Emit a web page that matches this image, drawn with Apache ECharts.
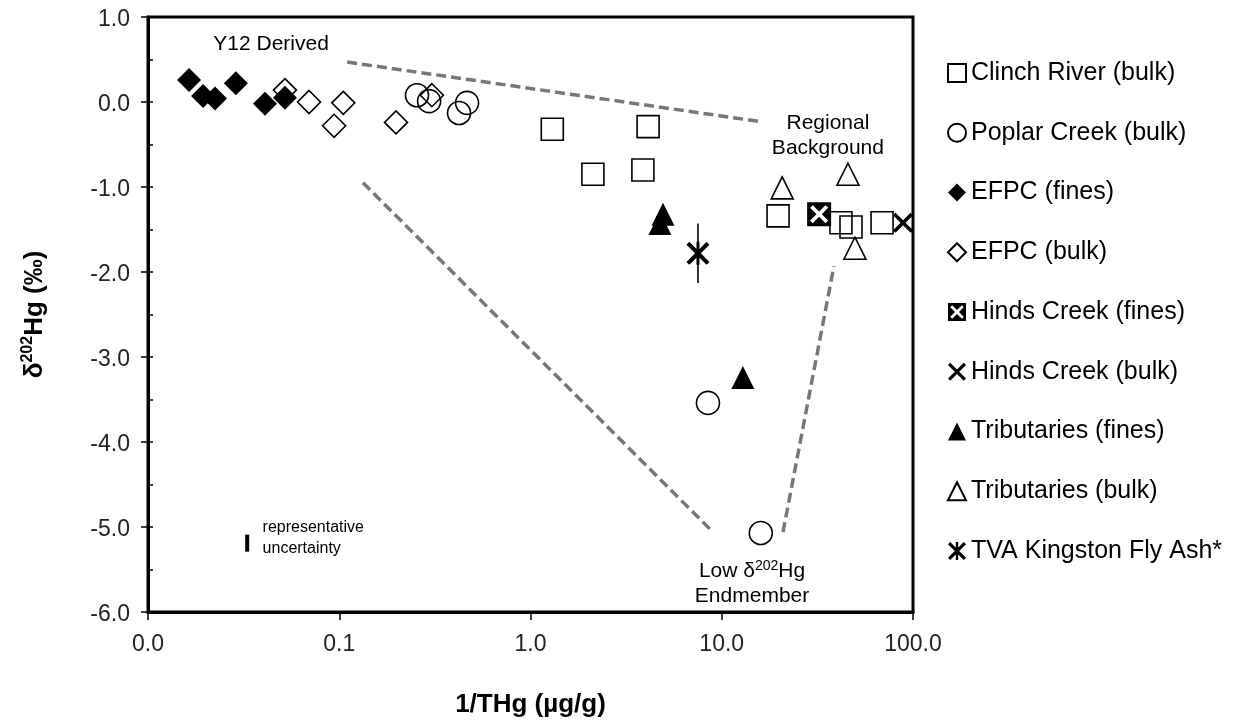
<!DOCTYPE html>
<html>
<head>
<meta charset="utf-8">
<script src="https://cdn.jsdelivr.net/npm/echarts@6/dist/echarts.min.js"></script>
<style>
  html, body { margin: 0; padding: 0; background: #fff; }
  #chart { width: 1247px; height: 726px; }
</style>
</head>
<body>
<div id="chart"></div>
<script>
// ---------------- DATA ----------------
const xTicks = [0.01, 0.1, 1, 10, 100];
const yTicks = [-6, -5, -4, -3, -2, -1, 0, 1];

const clinchX = [1.30, 4.12, 2.12, 3.87, 19.7, 42.0, 47.4, 68.9];
const clinchY = [-0.32, -0.29, -0.85, -0.80, -1.34, -1.42, -1.47, -1.42];

const poplarX = [0.255, 0.295, 0.466, 0.423, 8.47, 16.0];
const poplarY = [0.08, 0.01, -0.01, -0.13, -3.54, -5.07];

const efpcFinesX = [0.0164, 0.0194, 0.0224, 0.0288, 0.0409, 0.052];
const efpcFinesY = [0.26, 0.07, 0.04, 0.22, -0.02, 0.05];

const efpcBulkX = [0.052, 0.0695, 0.105, 0.094, 0.198, 0.305];
const efpcBulkY = [0.14, 0.00, -0.01, -0.28, -0.24, 0.08];

const hindsFinesX = [32.3];
const hindsFinesY = [-1.32];

const hindsBulkX = [88.7];
const hindsBulkY = [-1.42];

const tribFinesX = [4.93, 4.75, 12.9];
const tribFinesY = [-1.32, -1.43, -3.24];

const tribBulkX = [20.7, 45.7, 49.7];
const tribBulkY = [-1.01, -0.85, -1.72];

const tvaX = [7.51];
const tvaY = [-1.78];
const tvaErr = [0.35];

const uncertX = [0.033];
const uncertY = [-5.19];
const uncertErr = [0.10];

// dashed mixing lines: [x1, x2], [y1, y2]
const dashA_X = [0.110, 16.4];  const dashA_Y = [0.47, -0.235];
const dashB_X = [0.133, 9.0];   const dashB_Y = [-0.95, -5.06];
const dashC_X = [20.9, 38.6];   const dashC_Y = [-5.06, -1.93];

// annotations
const annoText = ['Y12 Derived', 'Regional\nBackground', '{a|Low δ}{s|202}{a|Hg}\n{a|Endmember}', 'representative\nuncertainty'];
const annoX = [0.044, 35.9, 14.4, 0.0395];
const annoY = [0.68, -0.40, -5.67, -5.13];

const seriesNames = ['Clinch River (bulk)', 'Poplar Creek (bulk)', 'EFPC (fines)', 'EFPC (bulk)',
  'Hinds Creek (fines)', 'Hinds Creek (bulk)', 'Tributaries (fines)', 'Tributaries (bulk)', 'TVA Kingston Fly Ash*'];

// ---------------- HELPERS ----------------
const FONT = "'Liberation Sans', Arial, sans-serif";
const zip = (xs, ys) => xs.map((x, i) => [x, ys[i]]);

const X_PATH = 'path://M0 2.5 L2.5 0 L10 7.5 L17.5 0 L20 2.5 L12.5 10 L20 17.5 L17.5 20 L10 12.5 L2.5 20 L0 17.5 L7.5 10 Z';
const AST_PATH = 'path://M0 2.5 L2.5 0 L10 7.5 L17.5 0 L20 2.5 L12.5 10 L20 17.5 L17.5 20 L10 12.5 L2.5 20 L0 17.5 L7.5 10 Z M8.7 0 L11.3 0 L11.3 20 L8.7 20 Z';
const BOXX_PATH = 'path://M0 0 L20 0 L20 20 L0 20 Z M2.5 4.7 L7.8 10 L2.5 15.3 L4.7 17.5 L10 12.2 L15.3 17.5 L17.5 15.3 L12.2 10 L17.5 4.7 L15.3 2.5 L10 7.8 L4.7 2.5 Z';

const openStyle = { color: 'rgba(0,0,0,0)', borderColor: '#000', borderWidth: 1.6, opacity: 1 };
const fillStyle = { color: '#000', borderWidth: 0, opacity: 1 };

function scatter(name, xs, ys, symbol, size, style) {
  return { name, type: 'scatter', data: zip(xs, ys), symbol, symbolSize: size,
    itemStyle: style, z: 5, silent: true };
}
function dashLine(xs, ys) {
  return { type: 'line', data: zip(xs, ys), symbol: 'none', silent: true, z: 2,
    lineStyle: { color: '#777', width: 3.5, type: [10, 5], opacity: 1 } };
}
function errBar(xs, ys, es, w) {
  const d = [];
  xs.forEach((x, i) => { d.push([x, ys[i] + es[i]]); d.push([x, ys[i] - es[i]]); });
  return { type: 'line', data: d, symbol: 'none', silent: true, z: 4,
    lineStyle: { color: '#000', width: w, opacity: 1 } };
}

const annoData = annoText.map((t, i) => {
  const left = i === 3;
  return {
    value: [annoX[i], annoY[i]],
    label: {
      show: true,
      position: left ? 'right' : 'inside',
      distance: 0,
      formatter: t,
      fontFamily: FONT,
      fontSize: left ? 16 : 21,
      lineHeight: left ? 21 : 25,
      color: '#000',
      opacity: 1,
      align: left ? 'left' : 'center',
      verticalAlign: 'middle',
      rich: {
        a: { fontFamily: FONT, fontSize: 21, lineHeight: 25, color: '#000' },
        s: { fontFamily: FONT, fontSize: 14, lineHeight: 14, verticalAlign: 'top', color: '#000' }
      }
    }
  };
});

const option = {
  animation: false,
  backgroundColor: '#fff',
  textStyle: { fontFamily: FONT },
  grid: { left: 148, right: 334, top: 17, bottom: 114, show: true,
    borderColor: '#000', borderWidth: 3, backgroundColor: 'transparent', containLabel: false },
  legend: {
    data: seriesNames,
    orient: 'vertical',
    left: 942, top: 55,
    itemWidth: 18, itemHeight: 18, itemGap: 33.75,
    textStyle: { fontFamily: FONT, fontSize: 25, lineHeight: 26, color: '#000' },
    selectedMode: false
  },
  xAxis: {
    type: 'log', logBase: 10, min: xTicks[0], max: xTicks[xTicks.length - 1],
    name: '1/THg (µg/g)', nameLocation: 'middle', nameGap: 80,
    nameTextStyle: { fontFamily: FONT, fontSize: 26, fontWeight: 'bold', color: '#000' },
    axisLine: { show: true, onZero: false, lineStyle: { color: '#000', width: 3 } },
    axisTick: { show: true, inside: false, length: 8, lineStyle: { color: '#000', width: 1.5 } },
    minorTick: { show: false },
    axisLabel: { fontFamily: FONT, fontSize: 23, color: '#222', margin: 21,
      formatter: v => Number(v).toFixed(1) },
    splitLine: { show: false }
  },
  yAxis: [
    {
      type: 'value', min: yTicks[0], max: yTicks[yTicks.length - 1], interval: 1,
      name: '{a|δ}{s|202}{a|Hg (‰)}', nameLocation: 'middle', nameGap: 98, nameRotate: 90,
      nameTextStyle: {
        fontFamily: FONT, fontSize: 26, fontWeight: 'bold', color: '#000',
        rich: {
          a: { fontFamily: FONT, fontSize: 26, fontWeight: 'bold', lineHeight: 30, color: '#000' },
          s: { fontFamily: FONT, fontSize: 16, fontWeight: 'bold', lineHeight: 16, verticalAlign: 'top', color: '#000' }
        }
      },
      axisLine: { show: true, onZero: false, lineStyle: { color: '#000', width: 3 } },
      axisTick: { show: true, inside: false, length: 7, lineStyle: { color: '#000', width: 1.5 } },
      axisLabel: { fontFamily: FONT, fontSize: 23, color: '#222', margin: 18,
        formatter: v => '{v|' + Number(v).toFixed(1) + '}',
        rich: { v: { fontFamily: FONT, fontSize: 23, color: '#222', padding: [6, 0, 0, 0] } } },
      splitLine: { show: false }
    },
    {
      type: 'value', min: yTicks[0], max: yTicks[yTicks.length - 1], interval: 0.5, position: 'left',
      axisLine: { show: false, onZero: false },
      axisTick: { show: true, inside: true, length: 5, lineStyle: { color: '#000', width: 1.5 } },
      axisLabel: { show: false },
      splitLine: { show: false }
    }
  ],
  series: [
    dashLine(dashA_X, dashA_Y),
    dashLine(dashB_X, dashB_Y),
    dashLine(dashC_X, dashC_Y),
    errBar(tvaX, tvaY, tvaErr, 1.6),
    errBar(uncertX, uncertY, uncertErr, 4),
    scatter(seriesNames[0], clinchX, clinchY, 'rect', 22, openStyle),
    scatter(seriesNames[1], poplarX, poplarY, 'circle', 23, openStyle),
    scatter(seriesNames[3], efpcBulkX, efpcBulkY, 'diamond', 23, openStyle),
    scatter(seriesNames[2], efpcFinesX, efpcFinesY, 'diamond', 24, fillStyle),
    scatter(seriesNames[4], hindsFinesX, hindsFinesY, BOXX_PATH, 24, fillStyle),
    scatter(seriesNames[5], hindsBulkX, hindsBulkY, X_PATH, 20, fillStyle),
    scatter(seriesNames[6], tribFinesX, tribFinesY, 'triangle', 23, fillStyle),
    scatter(seriesNames[7], tribBulkX, tribBulkY, 'triangle', 22, openStyle),
    scatter(seriesNames[8], tvaX, tvaY, AST_PATH, 23, fillStyle),
    { type: 'scatter', data: annoData, symbolSize: 1, silent: true, z: 6,
      itemStyle: { color: 'rgba(0,0,0,0)', opacity: 1 } }
  ]
};

const chart = echarts.init(document.getElementById('chart'), null, { renderer: 'canvas' });
chart.setOption(option);
</script>
</body>
</html>
